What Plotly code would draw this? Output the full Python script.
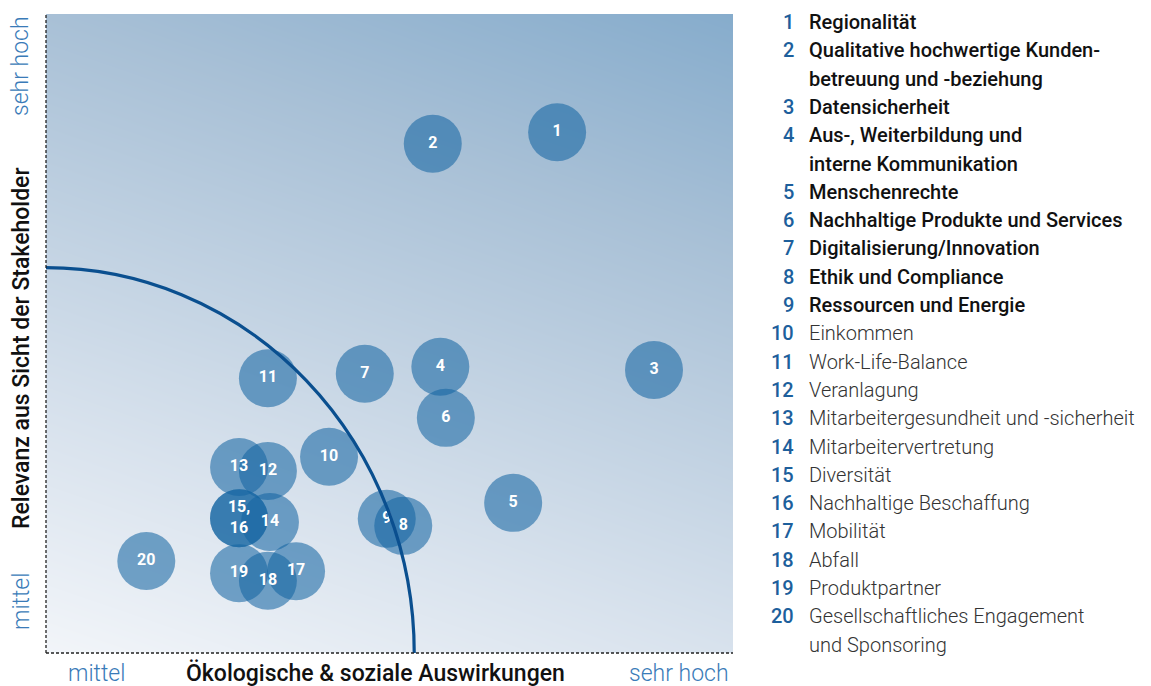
import numpy as np
import plotly.graph_objects as go

# ---------------- data ----------------
labels = ["1", "2", "3", "4", "5", "6", "7", "8", "9", "10",
          "11", "12", "13", "14", "15", "16", "17", "18", "19", "20"]
impact = [74.4, 56.3, 88.5, 57.4, 68.0, 58.2, 46.4, 52.0, 49.6, 41.2,
          32.3, 32.3, 28.1, 32.6, 28.1, 28.1, 36.4, 32.3, 28.1, 14.6]
relevance = [81.5, 79.7, 44.3, 44.8, 23.5, 36.8, 43.7, 19.9, 21.0, 30.7,
             43.0, 28.5, 29.1, 20.5, 21.1, 21.1, 12.8, 11.3, 12.5, 14.4]
bubble_text = ["1", "2", "3", "4", "5", "6", "7", "8", "9", "10",
               "11", "12", "13", "14", "15,<br>16", "", "17", "18", "19", "20"]
topic_names = [
    ["Regionalität"],
    ["Qualitative hochwertige Kunden-", "betreuung und -beziehung"],
    ["Datensicherheit"],
    ["Aus-, Weiterbildung und", "interne Kommunikation"],
    ["Menschenrechte"],
    ["Nachhaltige Produkte und Services"],
    ["Digitalisierung/Innovation"],
    ["Ethik und Compliance"],
    ["Ressourcen und Energie"],
    ["Einkommen"],
    ["Work-Life-Balance"],
    ["Veranlagung"],
    ["Mitarbeitergesundheit und -sicherheit"],
    ["Mitarbeitervertretung"],
    ["Diversität"],
    ["Nachhaltige Beschaffung"],
    ["Mobilität"],
    ["Abfall"],
    ["Produktpartner"],
    ["Gesellschaftliches Engagement", "und Sponsoring"],
]
material = [True] * 9 + [False] * 11
arc_radius_x = 53.6
arc_radius_y = 60.3
x_title = "Ökologische & soziale Auswirkungen"
y_title = "Relevanz aus Sicht der Stakeholder"
low_label = "mittel"
high_label = "sehr hoch"

# ---------------- layout helpers ----------------
W, H = 1151, 686
ML, MR, MT, MB = 46, 418, 14, 33
PW = W - ML - MR
PH = H - MT - MB


def px_x(px):
    return (px - ML) / PW


def px_y(py):
    return (H - MB - py) / PH


FONT = "Roboto, 'Noto Sans', sans-serif"
BLUE_LBL = "#3a7bb8"
NUM_BLUE = "#1d5f9c"

fig = go.Figure()

# gradient background
gx = np.linspace(-5, 105, 23)
gy = np.linspace(-5, 105, 23)
GX, GY = np.meshgrid(gx, gy)
GZ = 0.27 * GX / 100 + 0.73 * GY / 100
fig.add_trace(go.Heatmap(
    x=gx, y=gy, z=GZ, zsmooth="best", showscale=False, hoverinfo="skip",
    zmin=0, zmax=1,
    colorscale=[[0, "rgb(242,245,249)"], [0.27, "rgb(216,226,237)"],
                [0.73, "rgb(168,192,214)"], [1, "rgb(134,172,204)"]],
))

# bubbles
fig.add_trace(go.Scatter(
    x=impact, y=relevance, mode="markers+text",
    text=bubble_text, textposition="middle center",
    textfont=dict(family=FONT, size=16, color="white", weight="bold"),
    marker=dict(size=58, color="rgba(20,100,161,0.57)", line=dict(width=0)),
    hoverinfo="skip", showlegend=False, cliponaxis=False,
))

# materiality arc
fig.add_shape(type="circle", xref="x", yref="y",
              x0=-arc_radius_x, x1=arc_radius_x,
              y0=-arc_radius_y, y1=arc_radius_y,
              line=dict(color="#0a4f8f", width=3.2), layer="above")

# dotted axes
fig.add_shape(type="line", xref="paper", yref="paper", x0=0, x1=1, y0=0, y1=0,
              line=dict(color="#222", width=1.3, dash="3px,2px"), layer="above")
fig.add_shape(type="line", xref="paper", yref="paper", x0=0, x1=0, y0=0, y1=1,
              line=dict(color="#222", width=1.3, dash="3px,2px"), layer="above")

ann = []
AX_SIZE = 23
# axis labels
ann.append(dict(x=px_x(96), y=px_y(673), text=low_label,
                font=dict(family=FONT, size=AX_SIZE, color=BLUE_LBL, weight=300)))
ann.append(dict(x=px_x(375), y=px_y(673), text=x_title,
                font=dict(family=FONT, size=AX_SIZE, color="#111", weight=500)))
ann.append(dict(x=px_x(679), y=px_y(673), text=high_label,
                font=dict(family=FONT, size=AX_SIZE, color=BLUE_LBL, weight=300)))
ann.append(dict(x=px_x(21), y=px_y(66), text=high_label, textangle=-90,
                font=dict(family=FONT, size=AX_SIZE, color=BLUE_LBL, weight=300)))
ann.append(dict(x=px_x(21), y=px_y(348), text=y_title, textangle=-90,
                font=dict(family=FONT, size=AX_SIZE, color="#111", weight=500)))
ann.append(dict(x=px_x(21), y=px_y(602), text=low_label, textangle=-90,
                font=dict(family=FONT, size=AX_SIZE, color=BLUE_LBL, weight=300)))

# legend list
row = 0
for lab, lines, mat in zip(labels, topic_names, material):
    w = 500 if mat else 300
    tcol = "#111" if mat else "#333"
    for j, line in enumerate(lines):
        yy = px_y(22 + row * 28.3)
        if j == 0:
            ann.append(dict(x=px_x(796), y=yy, text=lab, xanchor="right",
                            font=dict(family=FONT, size=20, color=NUM_BLUE, weight=500)))
        ann.append(dict(x=px_x(807), y=yy, text=line, xanchor="left",
                        font=dict(family=FONT, size=20, color=tcol, weight=w)))
        row += 1

for a in ann:
    a.setdefault("xanchor", "center")
    a.update(xref="paper", yref="paper", yanchor="middle", showarrow=False)

fig.update_layout(
    width=W, height=H,
    margin=dict(l=ML, r=MR, t=MT, b=MB),
    paper_bgcolor="white", plot_bgcolor="white",
    xaxis=dict(range=[0, 100], showgrid=False, zeroline=False,
               showticklabels=False, ticks="", fixedrange=True),
    yaxis=dict(range=[0, 100], showgrid=False, zeroline=False,
               showticklabels=False, ticks="", fixedrange=True),
    annotations=ann,
    showlegend=False,
)

fig.write_html("out.html",
               config={"displayModeBar": False},
               post_script="document.body.style.margin='0';"
                           "document.body.style.overflow='hidden';")
